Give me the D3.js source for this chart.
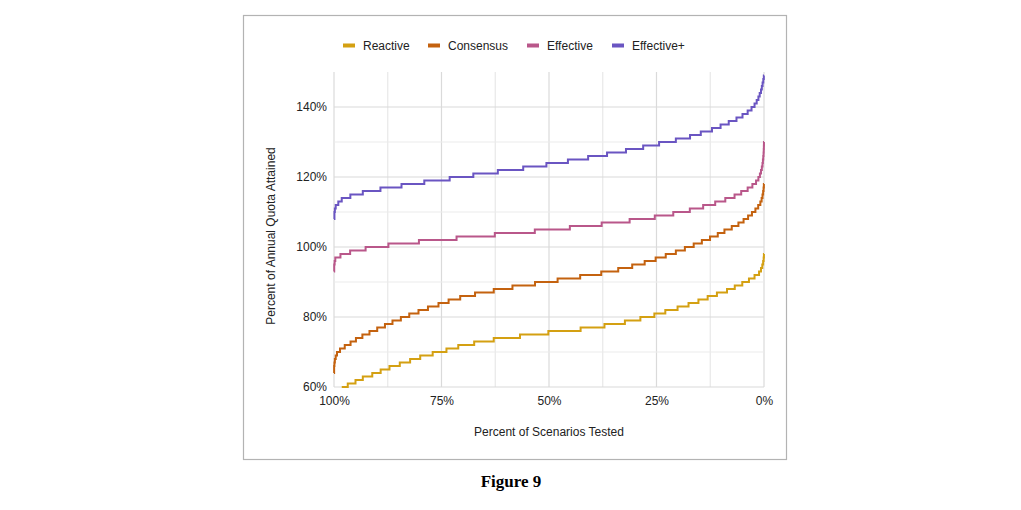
<!DOCTYPE html>
<html>
<head>
<meta charset="utf-8">
<script src="https://cdn.jsdelivr.net/npm/d3@7"></script>
<style>
  html, body { margin: 0; padding: 0; background: #ffffff; }
  svg { display: block; }
  text { font-family: "Liberation Sans", Arial, sans-serif; }
</style>
</head>
<body>
<svg id="chart" width="1021" height="510"></svg>
<script>
// ---- data ----
const seriesNames = ["Reactive", "Consensus", "Effective", "Effective+"];
const seriesColors = ["#d4a012", "#c4620f", "#b9578a", "#6a55c2"];

const xTickValues = [100, 75, 50, 25, 0];
const xTickLabels = ["100%", "75%", "50%", "25%", "0%"];
const yTickValues = [60, 80, 100, 120, 140];
const yTickLabels = ["60%", "80%", "100%", "120%", "140%"];

// percent of scenarios where each level starts (left to right), and level value
const reactiveX = [98.2, 96.8, 95.0, 93.3, 91.1, 89.15, 87.1, 84.7, 82.3, 79.95, 77.05, 73.85, 71.1, 67.4, 62.85, 56.75, 50.15, 42.65, 37.1, 32.35, 28.75, 25.5, 22.95, 20.1, 17.55, 15.25, 13.1, 10.95, 8.6, 6.8, 5.05, 3.5, 2.2, 1.15, 0.7, 0.4, 0.2, 0.08, 0.02];
const reactiveY = [60, 61, 62, 63, 64, 65, 66, 67, 68, 69, 70, 71, 72, 73, 74, 75, 76, 77, 78, 79, 80, 81, 82, 83, 84, 85, 86, 87, 88, 89, 90, 91, 92, 93, 94, 95, 96, 97, 98];

const consensusX = [100, 99.97, 99.9, 99.8, 99.6, 99.3, 98.6, 97.5, 96.15, 94.9, 93.4, 91.75, 89.95, 88.15, 86.4, 84.45, 82.5, 80.35, 78.15, 75.7, 73.35, 70.65, 67.2, 62.85, 58.5, 53.25, 48.0, 42.75, 37.85, 33.9, 30.65, 27.75, 25.2, 22.85, 20.5, 18.4, 16.35, 14.45, 12.55, 10.75, 9.2, 7.5, 5.95, 4.75, 3.7, 2.8, 2.0, 1.35, 0.85, 0.55, 0.35, 0.2, 0.1, 0.03];
const consensusY = [64, 66, 67, 68, 69, 70, 71, 72, 73, 74, 75, 76, 77, 78, 79, 80, 81, 82, 83, 84, 85, 86, 87, 88, 89, 90, 91, 92, 93, 94, 95, 96, 97, 98, 99, 100, 101, 102, 103, 104, 105, 106, 107, 108, 109, 110, 111, 112, 113, 114, 115, 116, 117, 118];

const effectiveX = [100, 99.95, 99.85, 99.7, 98.5, 96.25, 92.65, 87.35, 80.25, 71.5, 62.6, 53.3, 45.15, 37.75, 31.25, 25.4, 21.1, 17.25, 14.15, 11.35, 9.0, 6.85, 5.3, 3.8, 2.7, 1.85, 1.3, 0.95, 0.7, 0.5, 0.35, 0.25, 0.17, 0.1, 0.06, 0.03, 0.01];
const effectiveY = [93, 95, 96, 97, 98, 99, 100, 101, 102, 103, 104, 105, 106, 107, 108, 109, 110, 111, 112, 113, 114, 115, 116, 117, 118, 119, 120, 121, 122, 123, 124, 125, 126, 127, 128, 129, 130];

const effectivePlusX = [100, 99.9, 99.8, 99.6, 99.0, 98.2, 96.2, 93.3, 89.2, 84.3, 79.0, 73.1, 67.6, 61.9, 56.0, 50.6, 45.6, 40.9, 36.5, 32.1, 28.1, 24.4, 20.5, 17.2, 14.7, 12.1, 10.1, 8.2, 6.4, 5.0, 3.8, 2.9, 2.2, 1.7, 1.3, 1.0, 0.7, 0.5, 0.33, 0.16, 0.04];
const effectivePlusY = [108, 110, 111, 112, 113, 114, 115, 116, 117, 118, 119, 120, 121, 122, 123, 124, 125, 126, 127, 128, 129, 130, 131, 132, 133, 134, 135, 136, 137, 138, 139, 140, 141, 142, 143, 144, 145, 146, 147, 148, 149];

const seriesX = [reactiveX, consensusX, effectiveX, effectivePlusX];
const seriesY = [reactiveY, consensusY, effectiveY, effectivePlusY];

// ---- layout ----
const svg = d3.select("#chart");
const plotLeft = 334, plotRight = 764, plotTop = 72, plotBottom = 387;

const x = d3.scaleLinear().domain([100, 0]).range([plotLeft, plotRight]);
const y = d3.scaleLinear().domain([60, 150]).range([plotBottom, plotTop]);

// frame
svg.append("rect")
  .attr("x", 243.5).attr("y", 15.5).attr("width", 543).attr("height", 444)
  .attr("fill", "none").attr("stroke", "#b3b3b3").attr("stroke-width", 1.2);

// grid
const g = svg.append("g");
const vGrid = d3.range(0, 100.01, 12.5);
g.selectAll("line.vg").data(vGrid).enter().append("line")
  .attr("x1", d => x(d)).attr("x2", d => x(d))
  .attr("y1", plotTop).attr("y2", plotBottom)
  .attr("stroke", d => (d % 25 === 0) ? "#dadada" : "#e8e8e8")
  .attr("stroke-width", 1.2);
const hGrid = d3.range(60, 141, 10);
g.selectAll("line.hg").data(hGrid).enter().append("line")
  .attr("x1", plotLeft).attr("x2", plotRight)
  .attr("y1", d => y(d)).attr("y2", d => y(d))
  .attr("stroke", d => (d % 20 === 0) ? "#dadada" : "#ebebeb")
  .attr("stroke-width", 1.2);

// axes
const xAxis = d3.axisBottom(x).tickValues(xTickValues)
  .tickFormat((d, i) => xTickLabels[i]).tickSize(0).tickPadding(9);
const xg = svg.append("g").attr("transform", `translate(0,${plotBottom})`).call(xAxis);
xg.select(".domain").remove();
xg.selectAll("text").attr("font-size", 12).attr("fill", "#222")
  .style("font-family", "'Liberation Sans', Arial, sans-serif");

const yAxis = d3.axisLeft(y).tickValues(yTickValues)
  .tickFormat((d, i) => yTickLabels[i]).tickSize(0).tickPadding(7);
const yg = svg.append("g").attr("transform", `translate(${plotLeft},0)`).call(yAxis);
yg.select(".domain").remove();
yg.selectAll("text").attr("font-size", 12).attr("fill", "#222")
  .style("font-family", "'Liberation Sans', Arial, sans-serif");

// axis titles
svg.append("text").attr("x", (plotLeft + plotRight) / 2).attr("y", 436)
  .attr("text-anchor", "middle").attr("font-size", 12).attr("fill", "#222")
  .text("Percent of Scenarios Tested");
svg.append("text")
  .attr("transform", `translate(275,236) rotate(-90)`)
  .attr("text-anchor", "middle").attr("font-size", 12).attr("fill", "#222")
  .text("Percent of Annual Quota Attained");

// lines
const line = d3.line().x(d => x(d[0])).y(d => y(d[1])).curve(d3.curveStepAfter);
seriesNames.forEach((name, i) => {
  const pts = seriesX[i].map((sx, j) => [sx, seriesY[i][j]]);
  pts.push([0, seriesY[i][seriesY[i].length - 1]]);
  svg.append("path").datum(pts)
    .attr("d", line)
    .attr("fill", "none")
    .attr("stroke", seriesColors[i])
    .attr("stroke-width", 2)
    .attr("stroke-linejoin", "miter");
});

// legend
const legendX = [343, 428, 527, 612];
const legend = svg.append("g");
seriesNames.forEach((name, i) => {
  legend.append("rect").attr("x", legendX[i]).attr("y", 43.5)
    .attr("width", 12).attr("height", 4).attr("fill", seriesColors[i]);
  legend.append("text").attr("x", legendX[i] + 20).attr("y", 49.5)
    .attr("font-size", 12).attr("fill", "#222").text(name);
});

// caption
svg.append("text").attr("x", 511).attr("y", 487)
  .attr("text-anchor", "middle")
  .style("font-family", "'Liberation Serif', 'Times New Roman', serif")
  .attr("font-weight", "bold").attr("font-size", 17).attr("fill", "#000")
  .text("Figure 9");
</script>
</body>
</html>
